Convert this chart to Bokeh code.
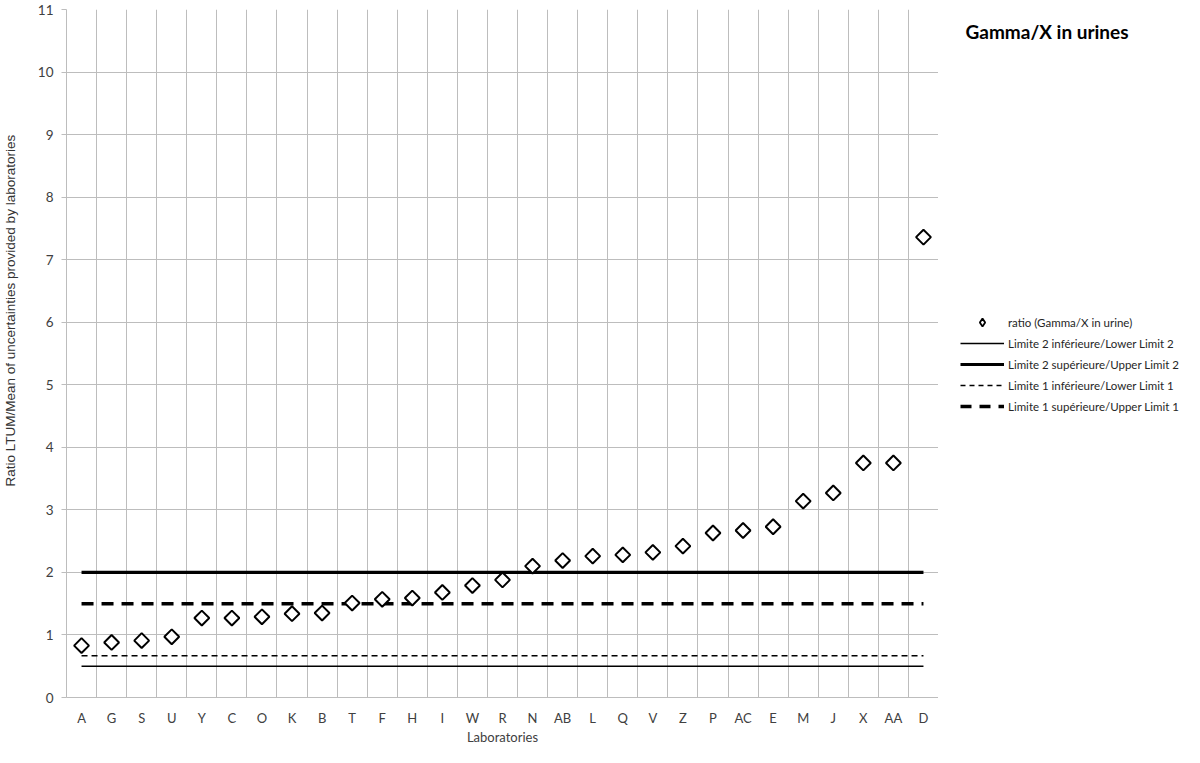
from bokeh.plotting import figure
from bokeh.layouts import row
from bokeh.models import FactorRange, Range1d, FixedTicker, Label, Legend, LegendItem, Title
from bokeh.embed import file_html
from bokeh.resources import INLINE
import math

labs = ["A", "G", "S", "U", "Y", "C", "O", "K", "B", "T", "F", "H", "I", "W", "R",
        "N", "AB", "L", "Q", "V", "Z", "P", "AC", "E", "M", "J", "X", "AA", "D"]
ratio = [0.83, 0.88, 0.91, 0.97, 1.27, 1.27, 1.29, 1.34, 1.35, 1.51, 1.57, 1.59,
         1.68, 1.79, 1.88, 2.10, 2.19, 2.26, 2.28, 2.32, 2.42, 2.63, 2.67, 2.73,
         3.14, 3.27, 3.75, 3.75, 7.36]
lower_limit_2 = 0.5
upper_limit_2 = 2.0
lower_limit_1 = 0.667
upper_limit_1 = 1.5
y_ticks = list(range(0, 12))

H = 747
p = figure(width=938, height=H, x_range=FactorRange(*labs), y_range=Range1d(0, 11),
           output_backend="svg", toolbar_location=None,
           min_border_left=66, min_border_right=0, min_border_top=9, min_border_bottom=46)
p.outline_line_color = None

grid_color = "#bdbdbd"
p.xgrid.ticker = FixedTicker(ticks=list(range(0, len(labs) + 1)))
p.xgrid.grid_line_color = grid_color
p.ygrid.ticker = FixedTicker(ticks=y_ticks)
p.ygrid.grid_line_color = grid_color

p.yaxis.ticker = FixedTicker(ticks=y_ticks)
for ax in (p.xaxis[0], p.yaxis[0]):
    ax.axis_line_color = grid_color
    ax.major_tick_line_color = grid_color
    ax.minor_tick_line_color = None
    ax.major_label_text_font = "Lato"
    ax.major_label_text_color = "#404040"
    ax.axis_label_text_font_style = "normal"
p.xaxis.major_label_text_font_size = "13px"
p.yaxis.major_label_text_font_size = "13.5px"
p.xaxis.major_tick_line_color = None
p.xaxis.major_tick_out = 0
p.xaxis.major_tick_in = 0
p.xaxis.major_label_standoff = 12
p.yaxis.major_tick_out = 5
p.yaxis.major_tick_in = 0
p.yaxis.major_label_standoff = 8
# blank axis label used only as spacer between tick labels and the rotated title
p.yaxis.axis_label = " "
p.yaxis.axis_label_text_font_size = "12px"
p.yaxis.axis_label_standoff = 0

p.xaxis.axis_label = "Laboratories"
p.xaxis.axis_label_text_font = "Lato"
p.xaxis.axis_label_text_font_size = "13px"
p.xaxis.axis_label_text_color = "#404040"
p.xaxis.axis_label_standoff = 0

ytitle = Title(text="Ratio  LTUM/Mean  of uncertainties provided by  laboratories",
               align="left", offset=211, standoff=0,
               text_font="Liberation Sans", text_font_size="13.5px",
               text_font_style="normal", text_color="#333333")
p.add_layout(ytitle, "left")

line_styles = dict(
    l2=dict(line_color="black", line_width=1.4),
    u2=dict(line_color="black", line_width=3.2),
    l1=dict(line_color="black", line_width=1.4, line_dash="6 4"),
    u1=dict(line_color="black", line_width=3.4, line_dash="12 8"),
)
marker_style = dict(marker="square", size=10.5, angle=math.pi / 4, line_color="black",
                    line_width=2, fill_color="white")

p.segment(x0=[labs[0]], x1=[labs[-1]], y0=[lower_limit_2], y1=[lower_limit_2], **line_styles["l2"])
p.segment(x0=[labs[0]], x1=[labs[-1]], y0=[upper_limit_2], y1=[upper_limit_2], **line_styles["u2"])
p.segment(x0=[labs[0]], x1=[labs[-1]], y0=[lower_limit_1], y1=[lower_limit_1], **line_styles["l1"])
p.segment(x0=[labs[0]], x1=[labs[-1]], y0=[upper_limit_1], y1=[upper_limit_1], **line_styles["u1"])
p.scatter(x=labs, y=ratio, **marker_style)

# side panel holding the title and the legend (its frame is aligned with the chart's frame)
W2 = 1184 - 938
q = figure(width=W2, height=H, x_range=Range1d(0, W2), y_range=Range1d(0, H),
           x_axis_type=None, y_axis_type=None, output_backend="svg", toolbar_location=None,
           min_border=0)
q.outline_line_color = None
q.grid.visible = False

off = [-1000]  # keyed legend proxies, placed outside the visible range
e_pts = q.scatter(x=off, y=off, marker="diamond", size=8, line_color="black",
                  line_width=1.8, fill_color="white")
e_l2 = q.line(x=off, y=off, **line_styles["l2"])
e_u2 = q.line(x=off, y=off, **line_styles["u2"])
e_l1 = q.line(x=off, y=off, **dict(line_styles["l1"], line_dash="5 4"))
e_u1 = q.line(x=off, y=off, **dict(line_styles["u1"], line_dash="11 8"))

legend = Legend(items=[
    LegendItem(label="ratio (Gamma/X in urine)", renderers=[e_pts]),
    LegendItem(label="Limite 2 inférieure/Lower Limit 2", renderers=[e_l2]),
    LegendItem(label="Limite 2 supérieure/Upper Limit 2", renderers=[e_u2]),
    LegendItem(label="Limite 1 inférieure/Lower Limit 1", renderers=[e_l1]),
    LegendItem(label="Limite 1 supérieure/Upper Limit 1", renderers=[e_u1]),
], location=(22, 281))
legend.border_line_color = None
legend.background_fill_alpha = 0
legend.padding = 0
legend.margin = 0
legend.spacing = 1
legend.glyph_width = 44
legend.glyph_height = 20
legend.label_height = 20
legend.label_standoff = 4
legend.label_text_font = "Lato"
legend.label_text_font_size = "11.5px"
legend.label_text_color = "#262626"
q.add_layout(legend, "center")

title = Label(x=27, y=666, x_units="screen", y_units="screen",
              text="Gamma/X in urines", text_font="Lato", text_font_style="bold",
              text_font_size="19px", text_color="black", text_baseline="middle")
q.add_layout(title)

layout = row(p, q, spacing=0)
open("out.html", "w").write(file_html(layout, INLINE))
